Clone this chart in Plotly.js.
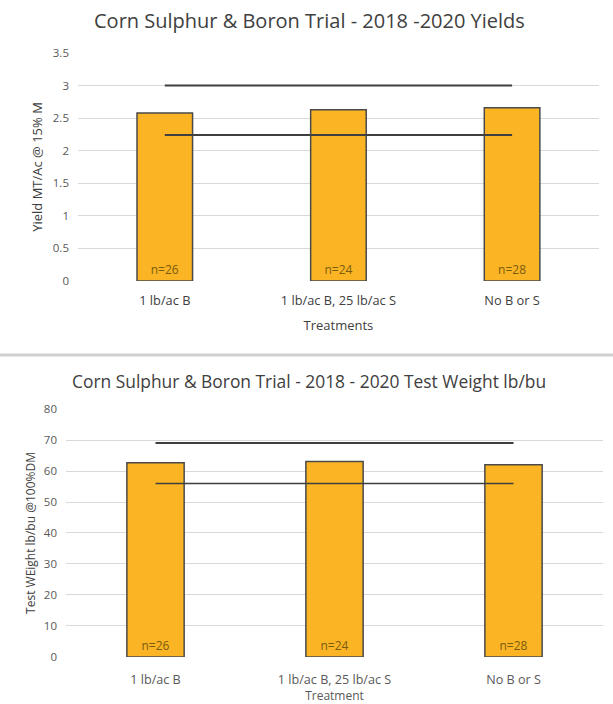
<!DOCTYPE html>
<html><head><meta charset="utf-8">
<script src="https://cdn.plot.ly/plotly-3.0.1.min.js"></script>
<style>html,body{margin:0;padding:0;background:#fff}#chart{width:613px;height:704px}</style>
</head><body><div id="chart"></div>
<script>
const categories = ['1 lb/ac B', '1 lb/ac B, 25 lb/ac S', 'No B or S'];
const nLabels = ['n=26', 'n=24', 'n=28'];
const yieldValues = [2.58, 2.63, 2.66];
const yieldLimits = [3.0, 2.24];
const twValues = [62.7, 63.1, 62.0];
const twLimits = [69, 56];
const yieldTicks = [0, 0.5, 1, 1.5, 2, 2.5, 3, 3.5];
const yieldTickText = ['0', '0.5', '1', '1.5', '2', '2.5', '3', '3.5'];
const twTicks = [0, 10, 20, 30, 40, 50, 60, 70, 80];

const font = '"Open Sans", Lato, sans-serif';
const barColor = '#FBB424';
const barLine = '#4a4a4a';
const limitColor = '#3f3f3f';

function barTrace(vals, xa, ya) {
  return {
    type: 'bar', x: categories, y: vals, xaxis: xa, yaxis: ya,
    width: 0.32,
    marker: {color: barColor, line: {color: barLine, width: 1.5}},
    text: nLabels, textposition: 'inside', insidetextanchor: 'start',
    textangle: 0, constraintext: 'none',
    textfont: {family: font, size: 12, color: '#7a5c10'},
    hoverinfo: 'none', showlegend: false
  };
}
function limitTrace(v, xa, ya, w) {
  return {
    type: 'scatter', mode: 'lines', x: categories, y: categories.map(() => v),
    xaxis: xa, yaxis: ya, line: {color: limitColor, width: w},
    hoverinfo: 'none', showlegend: false
  };
}

const data = [
  barTrace(yieldValues, 'x', 'y'),
  limitTrace(yieldLimits[0], 'x', 'y', 2),
  limitTrace(yieldLimits[1], 'x', 'y', 2),
  barTrace(twValues, 'x2', 'y2'),
  limitTrace(twLimits[0], 'x2', 'y2', 2),
  limitTrace(twLimits[1], 'x2', 'y2', 1.5)
];

const tickFont = {family: font, size: 11.5, color: '#595959'};

const layout = {
  width: 613, height: 704,
  margin: {l: 0, r: 0, t: 0, b: 0},
  paper_bgcolor: '#fff', plot_bgcolor: '#fff',
  font: {family: font},
  xaxis: {
    domain: [0.1272, 0.977], anchor: 'y', type: 'category',
    showgrid: false, showline: false, zeroline: false, ticks: '',
    tickfont: {family: font, size: 12.8, color: '#404040'}, ticklabelstandoff: 10,
    title: {text: 'Treatments', font: {family: font, size: 13, color: '#404040'}, standoff: 13}
  },
  yaxis: {
    domain: [0.6009, 0.9247], anchor: 'x', range: [0, 3.5],
    tickvals: yieldTicks, ticktext: yieldTickText,
    showgrid: true, gridcolor: '#d9d9d9', gridwidth: 1,
    zeroline: false, showline: false, ticks: '',
    tickfont: tickFont, ticklabelstandoff: 8,
    title: {text: 'Yield MT/Ac @ 15% M', font: {family: font, size: 13, color: '#404040'}, standoff: 7}
  },
  xaxis2: {
    domain: [0.1077, 0.9837], anchor: 'y2', type: 'category',
    showgrid: false, showline: false, zeroline: false, ticks: '',
    tickfont: {family: font, size: 12.6, color: '#595959'}, ticklabelstandoff: 13,
    title: {text: 'Treatment', font: {family: font, size: 12, color: '#595959'}, standoff: 5}
  },
  yaxis2: {
    domain: [0.0668, 0.419], anchor: 'x2', range: [0, 80],
    tickvals: twTicks,
    showgrid: true, gridcolor: '#d9d9d9', gridwidth: 1,
    zeroline: false, showline: false, ticks: '',
    tickfont: tickFont, ticklabelstandoff: 8,
    title: {text: 'Test WEight lb/bu @100%DM', font: {family: font, size: 12, color: '#404040'}, standoff: 5}
  },
  annotations: [
    {text: 'Corn Sulphur &amp; Boron Trial - 2018 -2020 Yields', xref: 'paper', yref: 'paper',
     x: 0.505, y: 1 - 20 / 704, xanchor: 'center', yanchor: 'middle', showarrow: false,
     font: {family: font, size: 20, color: '#404040'}},
    {text: 'Corn Sulphur &amp; Boron Trial - 2018 - 2020 Test Weight lb/bu', xref: 'paper', yref: 'paper',
     x: 0.504, y: 1 - 381 / 704, xanchor: 'center', yanchor: 'middle', showarrow: false,
     font: {family: font, size: 17.4, color: '#404040'}}
  ],
  shapes: [
    {type: 'line', xref: 'paper', yref: 'paper', x0: 0, x1: 1, y0: 1 - 355 / 704, y1: 1 - 355 / 704,
     line: {color: '#d0d0d0', width: 3}}
  ]
};

Plotly.newPlot('chart', data, layout, {displayModeBar: false, staticPlot: true});
</script></body></html>
